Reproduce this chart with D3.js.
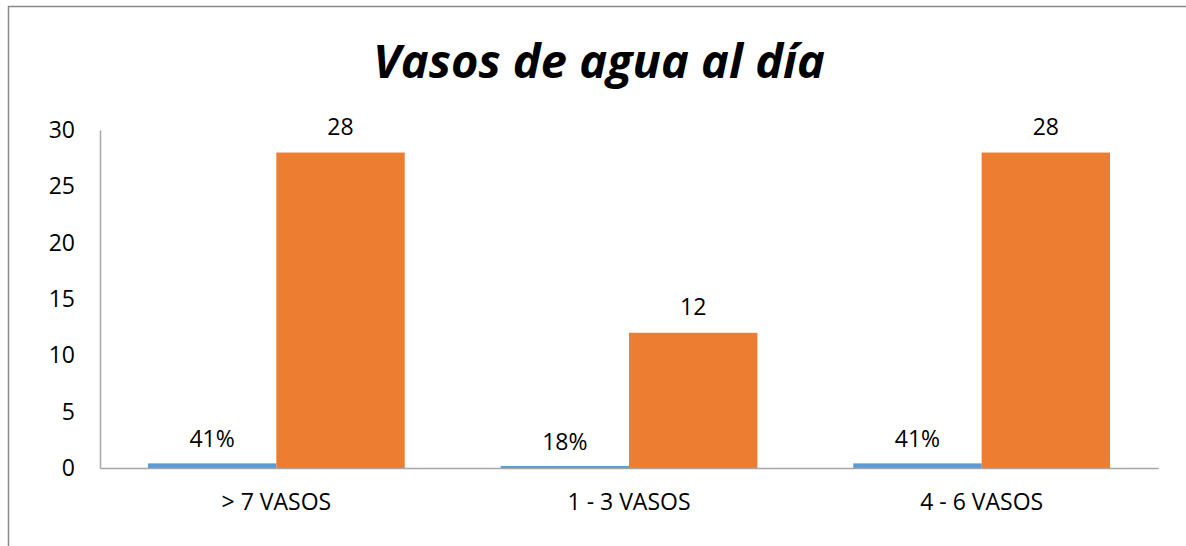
<!DOCTYPE html>
<html>
<head>
<meta charset="utf-8">
<script src="https://cdn.jsdelivr.net/npm/d3@7"></script>
<style>
  body { margin: 0; background: #fff; }
  text { font-family: "Open Sans", "Liberation Sans", sans-serif; fill: #000; }
</style>
</head>
<body>
<div id="chart"></div>
<script>
const categories = ["> 7 VASOS", "1 - 3 VASOS", "4 - 6 VASOS"];
const shareValues = [0.41, 0.18, 0.41];
const countValues = [28, 12, 28];
const yTicks = [0, 5, 10, 15, 20, 25, 30];

const W = 1186, H = 546;
const margin = {top: 130, right: 28, bottom: 78, left: 100};
const width = W - margin.left - margin.right,
      height = H - margin.top - margin.bottom;

const svg = d3.select("#chart").append("svg")
    .attr("width", W)
    .attr("height", H);

// chart border
svg.append("rect")
    .attr("x", 8.5).attr("y", 6.5)
    .attr("width", W + 10).attr("height", H + 10)
    .attr("fill", "none")
    .attr("stroke", "#898989")
    .attr("stroke-width", 1.5);

const g = svg.append("g")
    .attr("transform", "translate(" + margin.left + "," + margin.top + ")");

const x0 = d3.scaleBand()
    .domain(categories)
    .range([0, width])
    .paddingInner(0.272)
    .paddingOuter(0.136);

const x1 = d3.scaleBand()
    .domain(["share", "count"])
    .range([0, x0.bandwidth()]);

const y = d3.scaleLinear()
    .domain([0, 30])
    .range([height, 0]);

const fs = "23px";

// y axis
const yAxis = g.append("g")
    .call(d3.axisLeft(y).tickValues(yTicks).tickSize(0).tickPadding(25));
yAxis.select(".domain").attr("stroke", "#a6a6a6").attr("stroke-width", 1.5);
yAxis.selectAll("text")
    .style("font-family", "\"Open Sans\", sans-serif")
    .style("font-size", fs)
    .attr("fill", "#000");

const rows = categories.map((c, i) => ({cat: c, share: shareValues[i], count: countValues[i]}));

// blue bars (shares)
g.selectAll(".share")
  .data(rows)
  .enter().append("rect")
    .attr("class", "share")
    .attr("x", d => x0(d.cat) + x1("share"))
    .attr("width", x1.bandwidth())
    .attr("y", d => y(d.share))
    .attr("height", d => height - y(d.share))
    .attr("fill", "#5b9bd5");

// orange bars (counts)
g.selectAll(".count")
  .data(rows)
  .enter().append("rect")
    .attr("class", "count")
    .attr("x", d => x0(d.cat) + x1("count"))
    .attr("width", x1.bandwidth())
    .attr("y", d => y(d.count))
    .attr("height", d => height - y(d.count))
    .attr("fill", "#ed7d31");

// x axis
const xAxis = g.append("g")
    .attr("transform", "translate(0," + height + ")")
    .call(d3.axisBottom(x0).tickSize(0).tickPadding(26));
xAxis.select(".domain").attr("stroke", "#a6a6a6").attr("stroke-width", 1.5);
xAxis.selectAll("text")
    .style("font-family", "\"Open Sans\", sans-serif")
    .style("font-size", fs)
    .attr("fill", "#000");

// labels
g.selectAll(".shareLabel")
  .data(rows)
  .enter().append("text")
    .attr("x", d => x0(d.cat) + x1("share") + x1.bandwidth() / 2)
    .attr("y", d => y(d.share) - 16)
    .attr("text-anchor", "middle")
    .style("font-size", fs)
    .text(d => Math.round(d.share * 100) + "%");

g.selectAll(".countLabel")
  .data(rows)
  .enter().append("text")
    .attr("x", d => x0(d.cat) + x1("count") + x1.bandwidth() / 2)
    .attr("y", d => y(d.count) - 18)
    .attr("text-anchor", "middle")
    .style("font-size", fs)
    .text(d => d.count);

// title
svg.append("text")
    .attr("x", 599)
    .attr("y", 78)
    .attr("text-anchor", "middle")
    .style("font-size", "47px")
    .style("font-weight", "700")
    .style("font-style", "italic")
    .text("Vasos de agua al día");
</script>
</body>
</html>
